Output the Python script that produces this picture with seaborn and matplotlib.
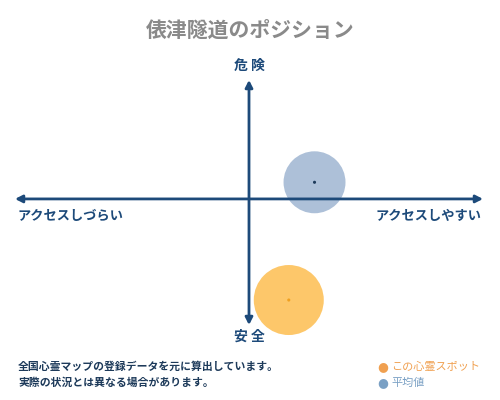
import matplotlib
matplotlib.use("Agg")
import matplotlib.pyplot as plt
import seaborn as sns
import pandas as pd

sns.set_theme(style="white")
plt.rcParams['font.family'] = ['Noto Sans CJK JP', 'DejaVu Sans']

# data
series = ["この心霊スポット", "平均値"]
access_x = [17, 28]        # -100 (hard) .. 100 (easy)
danger_y = [-85, 14]       # -100 (safe) .. 100 (danger)
title = "俵津隧道のポジション"
label_top = "危 険"
label_bottom = "安 全"
label_left = "アクセスしづらい"
label_right = "アクセスしやすい"
notes = ["全国心霊マップの登録データを元に算出しています。",
         "実際の状況とは異なる場合があります。"]

navy = "#1d4a7a"
fill_colors = ["#fdc76a", "#adc0d8"]
dot_colors = ["#f0a020", "#1d3a5a"]
sizes = [2540, 1990]

fig = plt.figure(figsize=(5, 4), dpi=100)
fig.patch.set_facecolor("white")
ax = fig.add_axes([15 / 500, 75 / 400, 468 / 500, 245 / 400])
ax.set_xlim(-100, 100)
ax.set_ylim(-106, 100)
ax.axis("off")

df = pd.DataFrame({"series": series, "x": access_x, "y": danger_y})
for i, row in df.iterrows():
    sns.scatterplot(x=[row.x], y=[row.y], s=sizes[i], color=fill_colors[i],
                    edgecolor="none", ax=ax, zorder=2, clip_on=False)
    sns.scatterplot(x=[row.x], y=[row.y], s=5, color=dot_colors[i],
                    edgecolor="none", ax=ax, zorder=4, clip_on=False)

arrow_kw = dict(arrowstyle="<|-|>,head_length=0.35,head_width=0.18",
                color=navy, lw=2, shrinkA=0, shrinkB=0)
ax.annotate("", xy=(100, 0), xytext=(-100, 0), arrowprops=arrow_kw, zorder=3,
            annotation_clip=False)
ax.annotate("", xy=(0, 100), xytext=(0, -106), arrowprops=arrow_kw, zorder=3,
            annotation_clip=False)

fig.text(0.5, 1 - 30 / 400, title, ha="center", va="center",
         fontsize=15, color="#8a8a8a", fontweight="bold")
fig.text(249 / 500, 1 - 66 / 400, label_top, ha="center", va="center",
         fontsize=10, color=navy, fontweight="bold")
fig.text(249 / 500, 1 - 337 / 400, label_bottom, ha="center", va="center",
         fontsize=10, color=navy, fontweight="bold")
fig.text(18 / 500, 1 - 216 / 400, label_left, ha="left", va="center",
         fontsize=9.5, color=navy, fontweight="bold")
fig.text(482 / 500, 1 - 216 / 400, label_right, ha="right", va="center",
         fontsize=9.5, color=navy, fontweight="bold")
fig.text(18 / 500, 1 - 367 / 400, notes[0], ha="left", va="center",
         fontsize=7.8, color="#1d3a5a", fontweight="bold")
fig.text(18 / 500, 1 - 383 / 400, notes[1], ha="left", va="center",
         fontsize=7.8, color="#1d3a5a", fontweight="bold")

leg_colors = ["#f0a050", "#7aa0c4"]
for i, name in enumerate(series):
    yy = 1 - (367 + 16 * i) / 400
    fig.text(383 / 500, yy, "●", ha="center", va="center",
             fontsize=9, color=leg_colors[i], family="DejaVu Sans")
    fig.text(391 / 500, yy, name, ha="left", va="center",
             fontsize=8, color=leg_colors[i])

fig.savefig("out.png", dpi=100)
